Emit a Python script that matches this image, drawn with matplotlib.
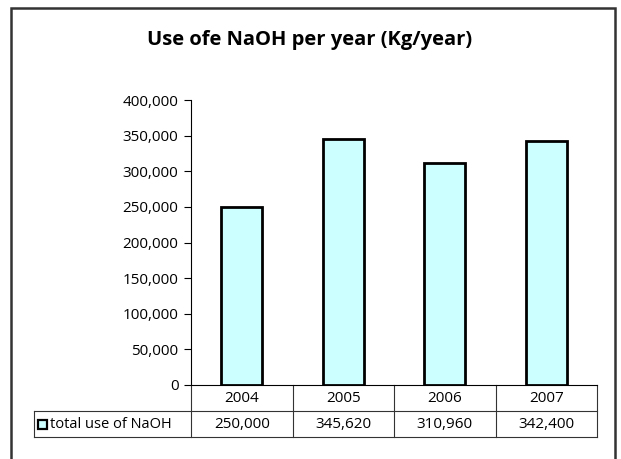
import matplotlib
matplotlib.use("Agg")
import matplotlib.pyplot as plt
from matplotlib.patches import Rectangle
from matplotlib.lines import Line2D
from matplotlib.ticker import FuncFormatter

years = ["2004", "2005", "2006", "2007"]
naoh_use = [250000, 345620, 310960, 342400]
series_name = "total use of NaOH"
title = "Use ofe NaOH per year (Kg/year)"

W, H = 621, 459
fig = plt.figure(figsize=(W / 100, H / 100), dpi=100)
plt.rcParams["font.family"] = ["Open Sans", "DejaVu Sans"]

# outer chart frame (runs off the bottom edge)
fig.add_artist(Rectangle((11 / W, -0.05), (615 - 11) / W, 1.05 - 8 / H,
                         transform=fig.transFigure, fill=False,
                         edgecolor="#333333", linewidth=1.8))

x0, x1, y0, y1 = 191, 597, 385, 100
ax = fig.add_axes([x0 / W, 1 - y0 / H, (x1 - x0) / W, (y0 - y1) / H])

xs = range(len(years))
ax.bar(xs, naoh_use, width=0.4, color="#CCFFFF", edgecolor="black", linewidth=2, zorder=3)
ax.set_xlim(-0.5, len(years) - 0.5)
ax.set_ylim(0, 400000)
ax.set_yticks(range(0, 400001, 50000))
ax.yaxis.set_major_formatter(FuncFormatter(lambda v, p: f"{int(v):,}"))
ax.tick_params(axis="y", length=5, width=0.8, labelsize=11, pad=4)
ax.set_xticks([])
for s in ("top", "right"):
    ax.spines[s].set_visible(False)
ax.spines["left"].set_linewidth(0.8)
ax.spines["bottom"].set_linewidth(0.8)

fig.text(310 / W, 1 - 40 / H, title, ha="center", va="center",
         fontsize=14.5, fontweight="bold")

# data table under the axis
row_h = 26 / (y0 - y1)
leg_left = (34 - x0) / (x1 - x0)
tr = ax.transAxes
lc = "#333333"
lw = 0.8
def hline(xa, xb, y):
    ax.add_line(Line2D([xa, xb], [y, y], transform=tr, color=lc, lw=lw, clip_on=False))
def vline(x, ya, yb):
    ax.add_line(Line2D([x, x], [ya, yb], transform=tr, color=lc, lw=lw, clip_on=False))

hline(leg_left, 1, -row_h)
hline(leg_left, 1, -2 * row_h)
vline(leg_left, -row_h, -2 * row_h)
n = len(years)
for i in range(n + 1):
    vline(i / n, 0, -2 * row_h)
for i, (yr, v) in enumerate(zip(years, naoh_use)):
    cx = (i + 0.5) / n
    ax.text(cx, -0.5 * row_h, yr, transform=tr, ha="center", va="center", fontsize=11)
    ax.text(cx, -1.5 * row_h, f"{v:,}", transform=tr, ha="center", va="center", fontsize=11)

# legend key in the value row
key = 9 / (x1 - x0)
key_h = 9 / (y0 - y1)
ax.add_patch(Rectangle((leg_left + 4 / (x1 - x0), -1.5 * row_h - key_h / 2), key, key_h,
                       transform=tr, facecolor="#CCFFFF", edgecolor="black",
                       linewidth=1.6, clip_on=False))
ax.text(leg_left + 16 / (x1 - x0), -1.5 * row_h, series_name, transform=tr,
        ha="left", va="center", fontsize=10.5)

fig.savefig("out.png", dpi=100)
